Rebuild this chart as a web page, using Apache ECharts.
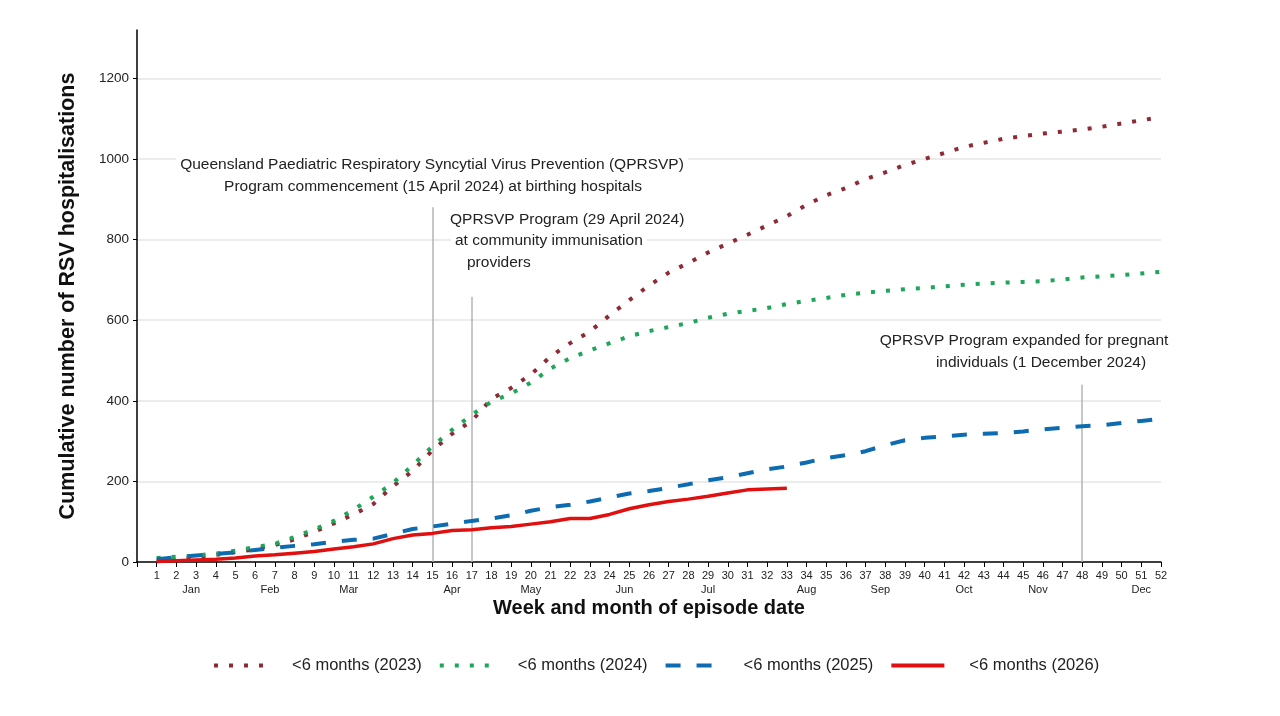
<!DOCTYPE html>
<html>
<head>
<meta charset="utf-8">
<script src="https://cdn.jsdelivr.net/npm/echarts@6/dist/echarts.min.js"></script>
<style>
  html, body { margin: 0; padding: 0; background: #fff; }
  #chart { width: 1280px; height: 716px; }
</style>
</head>
<body>
<div id="chart"></div>
<script>
// weeks 1..52
const weeks = Array.from({ length: 52 }, (_, i) => i + 1);

// cumulative hospitalisations
const y2023 = [2, 6, 12, 18, 24, 32, 42, 56, 75, 96, 118, 144, 188, 226, 277, 318, 350, 405, 432, 465,
  510, 543, 572, 612, 650, 686, 718, 742, 768, 790, 812, 835, 858, 886, 910, 928, 950, 967, 985, 1000,
  1015, 1030, 1040, 1050, 1057, 1063, 1068, 1073, 1080, 1088, 1096, 1104];
const y2024 = [10, 13, 16, 21, 28, 37, 45, 62, 81, 102, 130, 162, 196, 240, 287, 328, 365, 398, 418, 445,
  480, 506, 525, 543, 560, 573, 583, 593, 606, 616, 623, 630, 640, 648, 655, 663, 668, 673, 677, 680,
  684, 688, 691, 693, 695, 697, 701, 706, 709, 712, 716, 720];
const y2025 = [7, 12, 16, 20, 24, 30, 35, 40, 44, 50, 55, 58, 70, 82, 88, 95, 102, 108, 116, 127,
  136, 142, 150, 160, 170, 176, 184, 193, 203, 210, 220, 230, 237, 247, 258, 265, 275, 290, 302, 308,
  312, 316, 318, 320, 324, 329, 333, 337, 339, 345, 350, 355];
const y2026 = [1, 3, 5, 7, 10, 15, 18, 22, 26, 32, 38, 45, 58, 67, 71, 78, 80, 85, 88, 94,
  100, 108, 108, 118, 132, 142, 150, 156, 163, 171, 179, 181, 183];

// month labels and the week they sit under
const monthNames = ['Jan', 'Feb', 'Mar', 'Apr', 'May', 'Jun', 'Jul', 'Aug', 'Sep', 'Oct', 'Nov', 'Dec'];
const monthWeeks = [2.75, 6.75, 10.75, 16, 20, 24.75, 29, 34, 37.75, 42, 45.75, 51];

// programme milestones: week and height of the grey marker line
const eventWeeks = [15, 17, 48];
const eventHeights = [880, 658, 440];

const seriesNames = ['<6 months (2023)', '<6 months (2024)', '<6 months (2025)', '<6 months (2026)'];

const FONT = 'Liberation Sans, Arial, sans-serif';

function pairs(vals) {
  return vals.map((v, i) => [weeks[i], v]);
}

const monthMap = {};
monthWeeks.forEach((w, i) => { monthMap[w.toFixed(2)] = monthNames[i]; });

// annotation text, white box so gridlines stop at the words
function note(text, x, y, align) {
  return {
    type: 'text', x: x, y: y, z: 100,
    style: {
      text: text, font: '15.5px ' + FONT, fill: '#222', textAlign: align,
      backgroundColor: '#fff', padding: [1, 4]
    }
  };
}

const chart = echarts.init(document.getElementById('chart'));

const option = {
  animation: false,
  backgroundColor: '#fff',
  grid: { left: 137, right: 119, top: 30, bottom: 154 },
  legend: {
    top: 652,
    left: 207,
    itemWidth: 53,
    itemHeight: 14,
    itemGap: 16,
    itemStyle: { opacity: 0 },
    lineStyle: { width: 4 },
    textStyle: { fontFamily: FONT, fontSize: 16.5, color: '#222', padding: [0, 0, 0, 20] },
    data: seriesNames
  },
  xAxis: [
    {
      type: 'value',
      min: 0,
      max: 52,
      interval: 1,
      name: 'Week and month of episode date',
      nameLocation: 'middle',
      nameGap: 36,
      nameTextStyle: { fontFamily: FONT, fontSize: 20, fontWeight: 'bold', color: '#111' },
      axisLine: { show: true, lineStyle: { color: '#000', width: 1.5 } },
      axisTick: { show: true, length: 5, lineStyle: { color: '#000' } },
      splitLine: { show: false },
      axisLabel: {
        fontFamily: FONT, fontSize: 11, color: '#222', margin: 8,
        formatter: v => (v === 0 ? '' : String(v))
      }
    },
    {
      type: 'value',
      min: 0,
      max: 52,
      interval: 0.25,
      position: 'bottom',
      offset: 14,
      axisLine: { show: false },
      axisTick: { show: false },
      splitLine: { show: false },
      axisLabel: {
        fontFamily: FONT, fontSize: 11, color: '#222', margin: 8,
        formatter: v => monthMap[Number(v).toFixed(2)] || ''
      }
    }
  ],
  yAxis: {
    type: 'value',
    min: 0,
    max: 1320,
    interval: 200,
    name: 'Cumulative number of RSV hospitalisations',
    nameLocation: 'middle',
    nameGap: 58,
    nameTextStyle: { fontFamily: FONT, fontSize: 21.5, fontWeight: 'bold', color: '#111' },
    axisLine: { show: true, lineStyle: { color: '#000', width: 1.5 } },
    axisTick: { show: true, length: 4, lineStyle: { color: '#000' } },
    axisLabel: {
      fontFamily: FONT, fontSize: 13.5, color: '#222', margin: 8, showMaxLabel: false,
      formatter: v => String(v)
    },
    splitLine: { show: true, showMaxLine: false, showMinLine: false, lineStyle: { color: '#e6e6e6', width: 1.5 } }
  },
  series: [
    {
      name: seriesNames[0],
      type: 'line',
      data: pairs(y2023),
      symbol: 'none',
      color: '#8e2a36',
      lineStyle: { color: '#8e2a36', width: 4, type: [4, 11] },
      z: 3,
      markLine: {
        silent: true,
        symbol: 'none',
        label: { show: false },
        lineStyle: { color: '#b5b5b5', width: 1.5, type: 'solid' },
        data: eventWeeks.map((w, i) => [{ coord: [w, 0] }, { coord: [w, eventHeights[i]] }])
      }
    },
    {
      name: seriesNames[1],
      type: 'line',
      data: pairs(y2024),
      symbol: 'none',
      color: '#1ea65a',
      lineStyle: { color: '#1ea65a', width: 4, type: [4, 11] },
      z: 4
    },
    {
      name: seriesNames[2],
      type: 'line',
      data: pairs(y2025),
      symbol: 'none',
      color: '#0d6bb0',
      lineStyle: { color: '#0d6bb0', width: 4, type: [15, 16] },
      z: 5
    },
    {
      name: seriesNames[3],
      type: 'line',
      data: pairs(y2026),
      symbol: 'none',
      color: '#e01010',
      lineStyle: { color: '#e01010', width: 3.5, type: 'solid' },
      z: 6
    }
  ],
  graphic: [
    note('Queensland Paediatric Respiratory Syncytial Virus Prevention (QPRSVP)', 432, 156, 'center'),
    note('Program commencement (15 April 2024) at birthing hospitals', 433, 178, 'center'),
    note('QPRSVP Program (29 April 2024)', 446, 211, 'left'),
    note('at community immunisation', 451, 232, 'left'),
    note('providers', 463, 254, 'left'),
    note('QPRSVP Program expanded for pregnant', 1024, 332, 'center'),
    note('individuals (1 December 2024)', 1041, 354, 'center')
  ]
};

chart.setOption(option);
</script>
</body>
</html>
